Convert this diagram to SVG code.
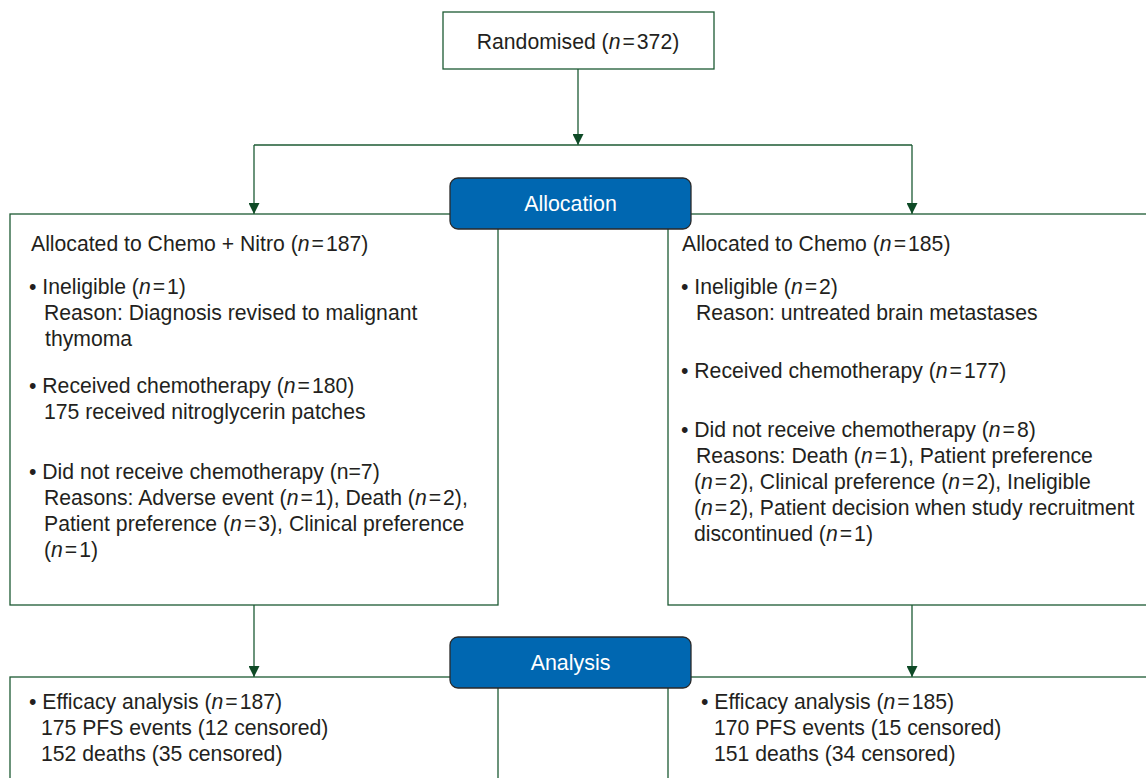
<svg xmlns="http://www.w3.org/2000/svg" width="1146" height="778" viewBox="0 0 1146 778">
<defs>
<style>
.box{fill:#fff;stroke:#1d5a33;stroke-width:1.3}
.hdr{fill:#0067b1;stroke:#2a2a2a;stroke-width:1.3}
.ln{fill:none;stroke:#1d5a33;stroke-width:1.3}
text{font-family:"Liberation Sans",Arial,sans-serif;font-size:21.2px;fill:#231f20}
.w{fill:#fff;text-anchor:middle;font-size:21.4px}
.c{text-anchor:middle}
.i{font-style:italic}
</style>
<marker id="ah" viewBox="0 0 10 10" refX="10" refY="5" markerWidth="11" markerHeight="11" markerUnits="userSpaceOnUse" orient="auto">
<path d="M0,0 L10,5 L0,10 z" fill="#0e4a26"/>
</marker>
</defs>
<g id="connectors">
<path class="ln" d="M578,69 V145" marker-end="url(#ah)"/>
<path class="ln" d="M254,145 H912"/>
<path class="ln" d="M254,145 V214" marker-end="url(#ah)"/>
<path class="ln" d="M912,145 V214" marker-end="url(#ah)"/>
<path class="ln" d="M254,605 V677" marker-end="url(#ah)"/>
<path class="ln" d="M912,605 V677" marker-end="url(#ah)"/>
</g>
<g id="randomised">
<rect class="box" x="443" y="12" width="271" height="57"/>
<text class="c" x="578" y="49">Randomised (<tspan class="i">n</tspan><tspan dx="2">=</tspan><tspan dx="2">372)</tspan></text>
</g>
<g id="left-alloc">
<rect class="box" x="10" y="214" width="488" height="391"/>
<text x="31" y="251">Allocated to Chemo + Nitro (<tspan class="i">n</tspan><tspan dx="2">=</tspan><tspan dx="2">187)</tspan></text>
<text x="29" y="294">• Ineligible (<tspan class="i">n</tspan><tspan dx="2">=</tspan><tspan dx="2">1)</tspan></text>
<text x="44" y="320">Reason: Diagnosis revised to malignant</text>
<text x="45" y="346">thymoma</text>
<text x="29" y="393">• Received chemotherapy (<tspan class="i">n</tspan><tspan dx="2">=</tspan><tspan dx="2">180)</tspan></text>
<text x="44" y="419">175 received nitroglycerin patches</text>
<text x="29" y="479">• Did not receive chemotherapy (n=7)</text>
<text x="44" y="505">Reasons: Adverse event (<tspan class="i">n</tspan><tspan dx="2">=</tspan><tspan dx="2">1), Death (</tspan><tspan class="i">n</tspan><tspan dx="2">=</tspan><tspan dx="2">2),</tspan></text>
<text x="44" y="531">Patient preference (<tspan class="i">n</tspan><tspan dx="2">=</tspan><tspan dx="2">3), Clinical preference</tspan></text>
<text x="44" y="557">(<tspan class="i">n</tspan><tspan dx="2">=</tspan><tspan dx="2">1)</tspan></text>
</g>
<g id="right-alloc">
<rect class="box" x="668" y="214" width="490" height="391"/>
<text x="682" y="251">Allocated to Chemo (<tspan class="i">n</tspan><tspan dx="2">=</tspan><tspan dx="2">185)</tspan></text>
<text x="681" y="294">• Ineligible (<tspan class="i">n</tspan><tspan dx="2">=</tspan><tspan dx="2">2)</tspan></text>
<text x="696" y="320">Reason: untreated brain metastases</text>
<text x="681" y="378">• Received chemotherapy (<tspan class="i">n</tspan><tspan dx="2">=</tspan><tspan dx="2">177)</tspan></text>
<text x="681" y="437">• Did not receive chemotherapy (<tspan class="i">n</tspan><tspan dx="2">=</tspan><tspan dx="2">8)</tspan></text>
<text x="696" y="463">Reasons: Death (<tspan class="i">n</tspan><tspan dx="2">=</tspan><tspan dx="2">1), Patient preference</tspan></text>
<text x="694" y="489">(<tspan class="i">n</tspan><tspan dx="2">=</tspan><tspan dx="2">2), Clinical preference (</tspan><tspan class="i">n</tspan><tspan dx="2">=</tspan><tspan dx="2">2), Ineligible</tspan></text>
<text x="694" y="515">(<tspan class="i">n</tspan><tspan dx="2">=</tspan><tspan dx="2">2), Patient decision when study recruitment</tspan></text>
<text x="694" y="541">discontinued (<tspan class="i">n</tspan><tspan dx="2">=</tspan><tspan dx="2">1)</tspan></text>
</g>
<g id="allocation">
<rect class="hdr" x="450" y="178" width="241" height="51" rx="8"/>
<text class="w" x="570.5" y="211">Allocation</text>
</g>
<g id="left-analysis">
<rect class="box" x="10" y="677" width="488" height="120"/>
<text x="29" y="709">• Efficacy analysis (<tspan class="i">n</tspan><tspan dx="2">=</tspan><tspan dx="2">187)</tspan></text>
<text x="41" y="735">175 PFS events (12 censored)</text>
<text x="41" y="761">152 deaths (35 censored)</text>
</g>
<g id="right-analysis">
<rect class="box" x="668" y="677" width="490" height="120"/>
<text x="701" y="709">• Efficacy analysis (<tspan class="i">n</tspan><tspan dx="2">=</tspan><tspan dx="2">185)</tspan></text>
<text x="714" y="735">170 PFS events (15 censored)</text>
<text x="714" y="761">151 deaths (34 censored)</text>
</g>
<g id="analysis">
<rect class="hdr" x="450" y="637" width="241" height="51" rx="8"/>
<text class="w" x="570.5" y="670">Analysis</text>
</g>
</svg>
